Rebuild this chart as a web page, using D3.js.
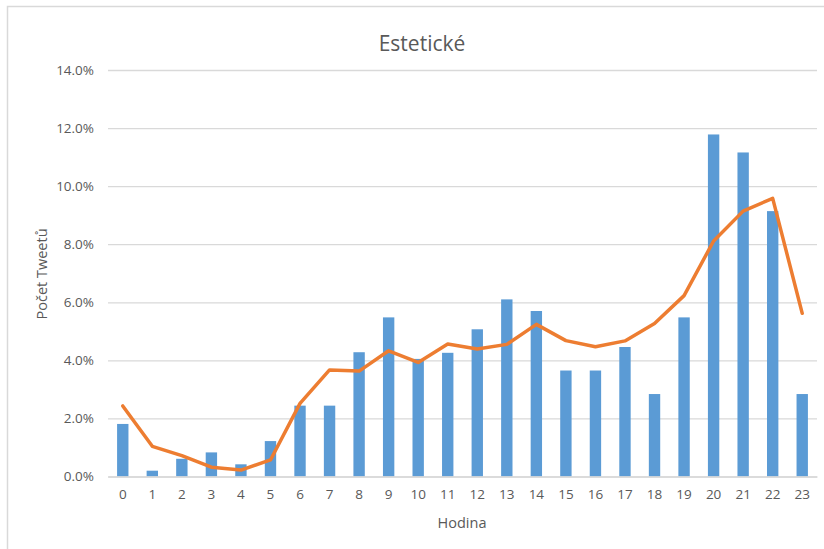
<!DOCTYPE html>
<html lang="cs">
<head>
<meta charset="utf-8">
<title>Estetické</title>
<script src="https://cdn.jsdelivr.net/npm/d3@7"></script>
<style>
  body { margin: 0; background: #fff; }
  svg text { font-family: "Open Sans", sans-serif; fill: #595959; }
</style>
</head>
<body>
<script>
// hodiny 0-23
var hours = d3.range(0, 24).map(String);
// sloupce - podil tweetu v dane hodine (%)
var barValues = [1.81, 0.20, 0.61, 0.83, 0.42, 1.22, 2.44, 2.44, 4.28, 5.48, 4.05, 4.26,
                 5.07, 6.10, 5.70, 3.65, 3.65, 4.46, 2.84, 5.48, 11.78, 11.16, 9.14, 2.84];
// cara (oranzova)
var lineValues = [2.43, 1.04, 0.72, 0.32, 0.22, 0.57, 2.52, 3.67, 3.63, 4.33, 3.93, 4.56,
                  4.39, 4.55, 5.24, 4.68, 4.47, 4.67, 5.27, 6.23, 8.11, 9.14, 9.58, 5.62];
var yTicks = [0, 2, 4, 6, 8, 10, 12, 14];

var W = 824, H = 549;
var m = { left: 108, right: 7, top: 70, bottom: 72.5 };

var svg = d3.select("body").append("svg")
    .attr("width", W)
    .attr("height", H);

// ramecek grafu
svg.append("rect")
    .attr("x", 7.5).attr("y", 6.5)
    .attr("width", W + 20).attr("height", H + 20)
    .attr("fill", "#fff")
    .attr("stroke", "#d9d9d9")
    .attr("stroke-width", 1.5);

var x = d3.scaleBand()
    .domain(hours)
    .range([m.left, W - m.right])
    .paddingInner(0.615)
    .paddingOuter(0.3075);

var y = d3.scaleLinear()
    .domain([0, 14])
    .range([H - m.bottom, m.top]);

// mrizka + osa y
var yAxis = svg.append("g")
    .attr("transform", "translate(" + m.left + ",0)")
    .call(d3.axisLeft(y)
        .tickValues(yTicks)
        .tickSize(-(W - m.right - m.left))
        .tickPadding(14)
        .tickFormat(function(d) { return d.toFixed(1) + "%"; }));
yAxis.select(".domain").remove();
yAxis.selectAll(".tick line").attr("stroke", "#d9d9d9").attr("stroke-width", 1.3);
yAxis.selectAll(".tick text").style("font-size", "13.5px").attr("fill", "#595959");

// sloupce
svg.append("g")
    .selectAll("rect")
    .data(barValues)
    .join("rect")
    .attr("x", function(d, i) { return x(hours[i]); })
    .attr("y", function(d) { return y(d); })
    .attr("width", x.bandwidth())
    .attr("height", function(d) { return y(0) - y(d); })
    .attr("fill", "#5b9bd5");

// osa x
var xAxis = svg.append("g")
    .attr("transform", "translate(0," + y(0) + ")")
    .call(d3.axisBottom(x).tickSize(0).tickPadding(13));
xAxis.select(".domain").attr("stroke", "#d9d9d9").attr("stroke-width", 1.3);
xAxis.selectAll(".tick text").style("font-size", "13.5px").attr("fill", "#595959");

// cara
var line = d3.line()
    .x(function(d, i) { return x(hours[i]) + x.bandwidth() / 2; })
    .y(function(d) { return y(d); });

svg.append("path")
    .datum(lineValues)
    .attr("d", line)
    .attr("fill", "none")
    .attr("stroke", "#ed7d31")
    .attr("stroke-width", 3.5)
    .attr("stroke-linejoin", "round")
    .attr("stroke-linecap", "round");

// titulky
svg.append("text")
    .attr("x", 422).attr("y", 51)
    .attr("text-anchor", "middle")
    .style("font-size", "21px")
    .text("Estetické");

svg.append("text")
    .attr("x", 462).attr("y", 528)
    .attr("text-anchor", "middle")
    .style("font-size", "14.5px")
    .text("Hodina");

svg.append("text")
    .attr("transform", "translate(47,274) rotate(-90)")
    .attr("text-anchor", "middle")
    .style("font-size", "14.5px")
    .text("Počet Tweetů");
</script>
</body>
</html>
